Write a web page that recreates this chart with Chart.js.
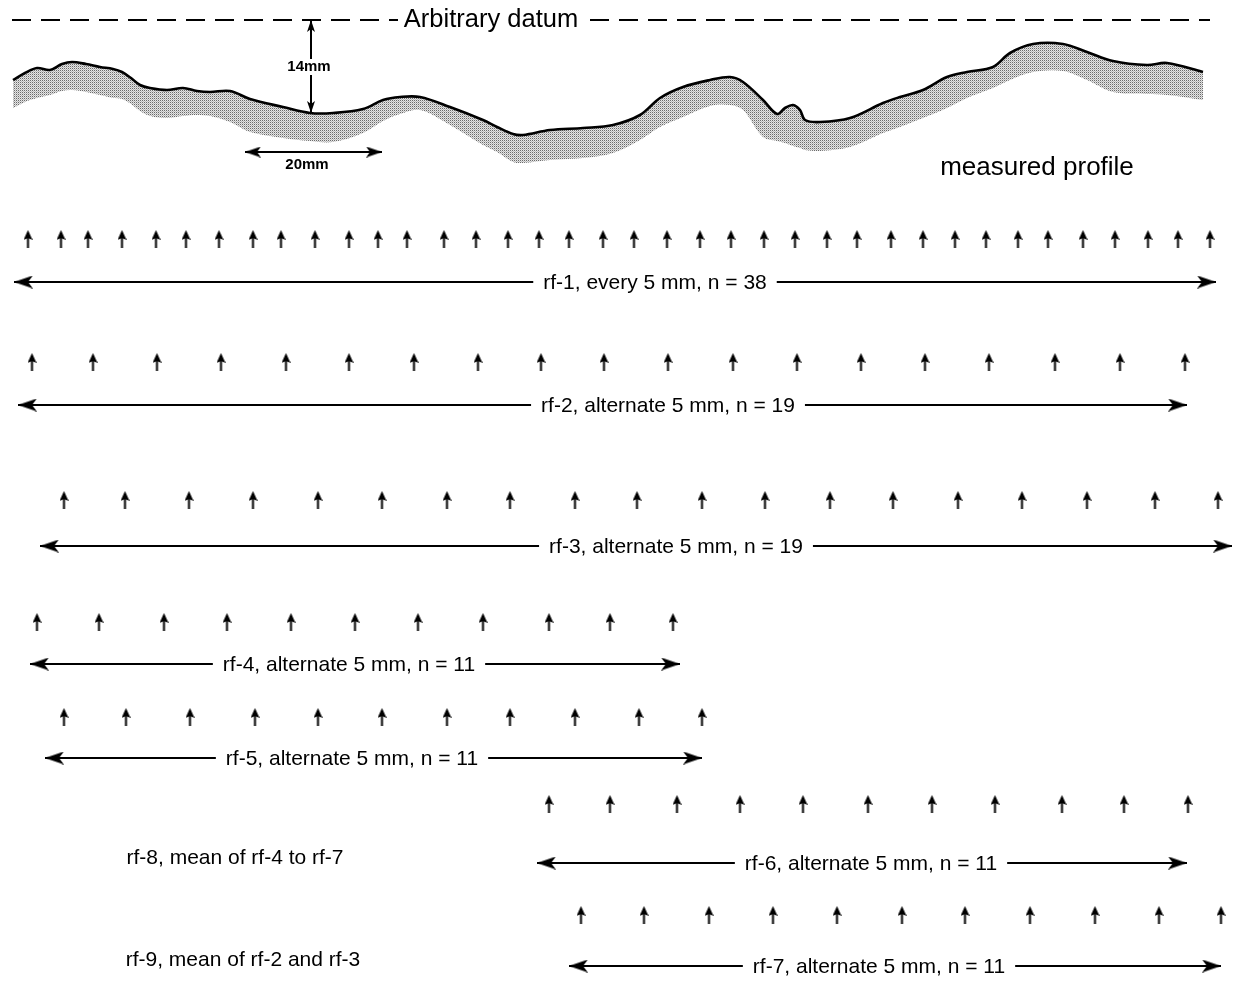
<!DOCTYPE html>
<html><head><meta charset="utf-8">
<script src="https://cdn.jsdelivr.net/npm/chart.js@4/dist/chart.umd.min.js"></script>
<style>html,body{margin:0;padding:0;background:#fff;overflow:hidden}canvas{display:block}</style>
</head><body>
<canvas id="c" width="1238" height="981"></canvas>
<script>
// ---- Data (diagram units) ----
const profileX      = [13,25,37,50,62,72,86,100,113,122,131,140,150,167,183,197,210,230,250,283,310,333,363,383,400,420,450,483,497,513,523,550,583,613,640,660,683,710,730,743,763,777,785,793,800,805,820,850,883,900,923,947,967,993,1010,1033,1063,1087,1113,1147,1167,1203];
const profileTop    = [80,73,68,70,64,62,64,67,69,72,78,85,88,90,88,91,92,91,99,107,113,113,109,100,97,97,107,120,127,134,135,130,128,125,115,98,87,80,77,82,100,114,108,105,110,120,122,118,103,97,90,77,72,67,53,44,44,52,61,65,63,72];
const profileBottom = [108,102,98,95,91,90,92,95,98,99,104,111,116,118,116,115,116,122,132,138,141,142,133,121,114,110,125,145,152,162,163,160,158,153,140,127,117,106,105,110,137,141,143,146,148,150,151,147,133,127,118,108,98,88,80,72,71,80,92,94,95,100];

const datumLevel = 20;
const datumLeft  = [12, 398];
const datumRight = [590, 1210];

const rf1X = [28,61,88,122,156,186,219,253,281,315,349,378,407,444,476,508,539,569,603,634,667,700,731,764,795,827,857,891,923,955,986,1018,1048,1083,1115,1148,1178,1210];
const rf2X = [32,93,157,221,286,349,414,478,541,604,668,733,797,861,925,989,1055,1120,1185];
const rf3X = [64,125,189,253,318,382,447,510,575,637,702,765,830,893,958,1022,1087,1155,1218];
const rf4X = [37,99,164,227,291,355,418,483,549,610,673];
const rf5X = [64,126,190,255,318,382,447,510,575,639,702];
const rf6X = [549,610,677,740,803,868,932,995,1062,1124,1188];
const rf7X = [581,644,709,773,837,902,965,1030,1095,1159,1221];
const sampleRows = [rf1X, rf2X, rf3X, rf4X, rf5X, rf6X, rf7X];
const sampleRowLevel = [239, 362, 500, 622, 717, 804, 915];

const spanLevel = [282, 405, 546, 664, 758, 863, 966];
const spanStart = [14, 18, 40, 30, 45, 537, 569];
const spanEnd   = [1216, 1187, 1232, 680, 702, 1187, 1221];
const spanLabels = ["rf-1, every 5 mm, n = 38","rf-2, alternate 5 mm, n = 19","rf-3, alternate 5 mm, n = 19","rf-4, alternate 5 mm, n = 11","rf-5, alternate 5 mm, n = 11","rf-6, alternate 5 mm, n = 11","rf-7, alternate 5 mm, n = 11"];
const spanLabelX = [655, 668, 676, 349, 352, 871, 879];

const noteLabels = ["rf-8, mean of rf-4 to rf-7", "rf-9, mean of rf-2 and rf-3"];
const noteX = [235, 243];
const noteY = [858, 960];

// ---- Glyph helpers ----
function upArrow(w, h, headL, lw) {
  const c = document.createElement('canvas'); c.width = w; c.height = h;
  const g = c.getContext('2d'); g.fillStyle = '#000';
  g.beginPath(); g.moveTo(w/2, 0); g.lineTo(w, headL); g.lineTo(w/2, headL-2); g.lineTo(0, headL); g.closePath(); g.fill();
  g.fillRect(w/2 - lw/2, headL-3, lw, h-headL+3);
  return c;
}
function head(w, L, barb) { // tip at image centre, pointing up
  const c = document.createElement('canvas'); c.width = w; c.height = 2*L;
  const g = c.getContext('2d'); g.fillStyle = '#000';
  g.beginPath(); g.moveTo(w/2, L); g.lineTo(w, 2*L); g.lineTo(w/2, 2*L - barb); g.lineTo(0, 2*L); g.closePath(); g.fill();
  return c;
}
const sampleArrow = upArrow(9, 18, 10, 2);
const spanHead = head(13, 19, 5);
const dimHeadBig = head(11, 16, 4);
const dimHeadSmall = head(8, 12, 3);

const canvas = document.getElementById('c');
const pc = document.createElement('canvas'); pc.width = 2; pc.height = 2;
const pg = pc.getContext('2d');
pg.fillStyle = '#e4e4e4'; pg.fillRect(0,0,2,2);
pg.fillStyle = '#6a6a6a'; pg.fillRect(0,0,1,1);
pg.fillStyle = '#b8b8b8'; pg.fillRect(1,1,1,1);
const stipple = canvas.getContext('2d').createPattern(pc, 'repeat');

const pts = (xs, ys) => xs.map((x, i) => ({x, y: Array.isArray(ys) ? ys[i] : ys}));

const datasets = [];
datasets.push({ data: pts(profileX, profileBottom), borderColor: 'rgba(0,0,0,0)', borderWidth: 0, pointRadius: 0, fill: false, tension: 0.35, clip: false });
datasets.push({ data: pts(profileX, profileTop), borderColor: '#000', borderWidth: 2.6, pointRadius: 0, fill: 0, backgroundColor: stipple, tension: 0.35, clip: false });
datasets.push({ data: pts(datumLeft, datumLevel), borderColor: '#000', borderWidth: 2, borderDash: [19, 10], pointRadius: 0, fill: false, clip: false });
datasets.push({ data: pts(datumRight, datumLevel), borderColor: '#000', borderWidth: 2, borderDash: [19, 10], pointRadius: 0, fill: false, clip: false });
// 14 mm dimension
datasets.push({ data: [{x: 311, y: datumLevel}, {x: 311, y: 113}], borderColor: '#000', borderWidth: 2, fill: false, clip: false,
  pointRadius: 3, pointStyle: dimHeadSmall, pointRotation: [0, 180] });
// 20 mm dimension
datasets.push({ data: [{x: 245, y: 152}, {x: 382, y: 152}], borderColor: '#000', borderWidth: 2.2, fill: false, clip: false,
  pointRadius: 3, pointStyle: dimHeadBig, pointRotation: [270, 90] });
sampleRows.forEach((xs, i) => {
  datasets.push({ data: pts(xs, sampleRowLevel[i]), showLine: false, pointRadius: 3, pointStyle: sampleArrow, clip: false });
  datasets.push({ data: [{x: spanStart[i], y: spanLevel[i]}, {x: spanEnd[i], y: spanLevel[i]}], borderColor: '#000', borderWidth: 1.8, fill: false, clip: false,
    pointRadius: 3, pointStyle: spanHead, pointRotation: [270, 90] });
});

const texts = [];
texts.push({x: 491, y: datumLevel, text: 'Arbitrary datum', font: '25.5px "Liberation Sans", Arial, sans-serif', bg: false});
texts.push({x: 309, y: 67, text: '14mm', font: 'bold 15px "Liberation Sans", Arial, sans-serif', bg: true, pad: 3, h: 16});
texts.push({x: 307, y: 165, text: '20mm', font: 'bold 15px "Liberation Sans", Arial, sans-serif', bg: false});
texts.push({x: 1037, y: 168, text: 'measured profile', font: '26px "Liberation Sans", Arial, sans-serif', bg: false});
spanLabels.forEach((t, i) => texts.push({x: spanLabelX[i], y: spanLevel[i] + 1, text: t, font: '21px "Liberation Sans", Arial, sans-serif', bg: true, pad: 10, h: 20}));
noteLabels.forEach((t, i) => texts.push({x: noteX[i], y: noteY[i], text: t, font: '21px "Liberation Sans", Arial, sans-serif', bg: false}));

const textPlugin = {
  id: 'diagramTexts',
  afterDatasetsDraw(chart) {
    const {ctx, scales: {x, y}} = chart;
    ctx.save();
    texts.forEach(t => {
      ctx.font = t.font;
      const px = x.getPixelForValue(t.x), py = y.getPixelForValue(t.y);
      const w = ctx.measureText(t.text).width;
      if (t.bg) { ctx.fillStyle = '#fff'; ctx.fillRect(px - w/2 - t.pad, py - t.h/2, w + 2*t.pad, t.h); }
      ctx.fillStyle = '#000'; ctx.textAlign = 'center'; ctx.textBaseline = 'middle';
      ctx.fillText(t.text, px, py);
    });
    ctx.restore();
  }
};

new Chart(canvas, {
  type: 'line',
  data: { datasets },
  options: {
    responsive: false, animation: false, devicePixelRatio: 1,
    layout: { padding: 0, autoPadding: false },
    events: [],
    plugins: { legend: { display: false }, tooltip: { enabled: false } },
    scales: {
      x: { type: 'linear', min: 0, max: 1238, display: false },
      y: { type: 'linear', min: 0, max: 981, reverse: true, display: false }
    }
  },
  plugins: [textPlugin]
});
</script>
</body></html>
